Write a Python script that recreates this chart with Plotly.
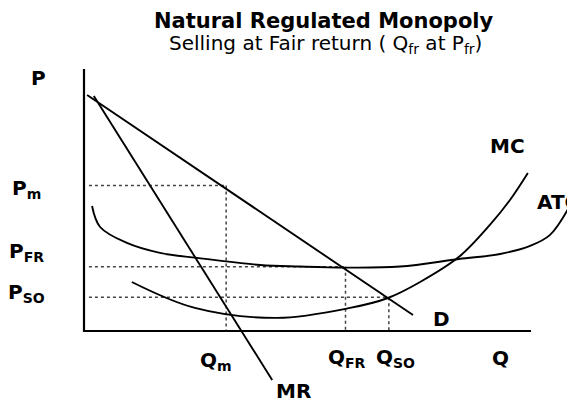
import plotly.graph_objects as go

# ---------------- data (chart units: Q across 0..10, P up 0..10) ----------------
axis_q = [0, 0, 10]
axis_p = [10, 0, 0]

demand_q = [0.07, 7.36]
demand_p = [9.01, 0.61]

mr_q = [0.22, 4.21]
mr_p = [8.97, -1.87]

mc_q = [1.07, 2.48, 4.32, 5.95, 6.80, 7.52, 8.39, 9.08, 9.53, 9.93]
mc_p = [1.87, 0.88, 0.50, 0.88, 1.26, 1.87, 2.83, 4.05, 5.00, 6.03]

atc_q = [0.18, 0.36, 0.96, 1.70, 2.53, 3.94, 4.83, 5.84, 7.07, 8.39, 9.31, 9.98, 10.42, 10.83]
atc_p = [4.77, 3.97, 3.36, 2.98, 2.79, 2.52, 2.46, 2.42, 2.46, 2.75, 2.94, 3.25, 3.66, 4.66]

price_levels = [5.55, 2.45, 1.29]   # Pm, PFR, PSO
qty_levels = [3.18, 5.85, 6.82]     # Qm, QFR, QSO
dotted_start_q = 0.11

# ---------------- figure ----------------
W, H = 575, 404
OFF = 8  # page body margin offset
X0, Y0, SX, SY = 84 - OFF, 331 - OFF, 44.7, 26.2  # pixel origin and scale of the drawn axes

fig = go.Figure()
line_black = dict(color="black", width=1.9)
dot_style = dict(color="#444444", width=1.5, dash="dot")

# dotted guide lines
for p, q in zip(price_levels, qty_levels):
    fig.add_trace(go.Scatter(x=[dotted_start_q, q], y=[p, p], mode="lines", line=dot_style, hoverinfo="skip"))
    fig.add_trace(go.Scatter(x=[q, q], y=[p, 0], mode="lines", line=dot_style, hoverinfo="skip"))

# curves
fig.add_trace(go.Scatter(x=demand_q, y=demand_p, mode="lines", line=line_black))
fig.add_trace(go.Scatter(x=mr_q, y=mr_p, mode="lines", line=line_black))
fig.add_trace(go.Scatter(x=mc_q, y=mc_p, mode="lines",
                         line=dict(color="black", width=1.9, shape="spline", smoothing=1.0)))
fig.add_trace(go.Scatter(x=atc_q, y=atc_p, mode="lines",
                         line=dict(color="black", width=1.9, shape="spline", smoothing=1.0)))

# axes
fig.add_trace(go.Scatter(x=axis_q, y=axis_p, mode="lines", line=dict(color="black", width=2.2)))

FONT = "DejaVu Sans"


def px(x):
    return (x - OFF) / W


def py(y):
    return 1 - (y - OFF) / H


def label(text, x, y, size=20, bold=True, xanchor="center"):
    t = f"<b>{text}</b>" if bold else text
    fig.add_annotation(x=px(x), y=py(y), xref="paper", yref="paper", text=t, showarrow=False,
                       xanchor=xanchor, yanchor="middle", font=dict(family=FONT, size=size, color="black"))


label("Natural Regulated Monopoly", 324, 21, size=21)
label("Selling at Fair return ( Q<sub>fr</sub> at P<sub>fr</sub>)", 325, 44, size=20, bold=False)

label("P", 38, 78)
label("P<sub>m</sub>", 26, 189)
label("P<sub>FR</sub>", 26, 252)
label("P<sub>SO</sub>", 26, 293)

label("Q<sub>m</sub>", 216, 361)
label("Q<sub>FR</sub>", 347, 358)
label("Q<sub>SO</sub>", 395, 358)
label("Q", 500, 358)
label("MR", 293, 391)
label("D", 441, 319)
label("MC", 507, 146)
label("ATC", 535, 202, xanchor="left")

fig.update_layout(
    width=W, height=H,
    margin=dict(l=0, r=0, t=0, b=0),
    paper_bgcolor="white", plot_bgcolor="white",
    showlegend=False,
    xaxis=dict(range=[(0 - X0) / SX, (W - X0) / SX], visible=False, fixedrange=True),
    yaxis=dict(range=[(Y0 - H) / SY, Y0 / SY], visible=False, fixedrange=True),
)

fig.write_html("out.html")
